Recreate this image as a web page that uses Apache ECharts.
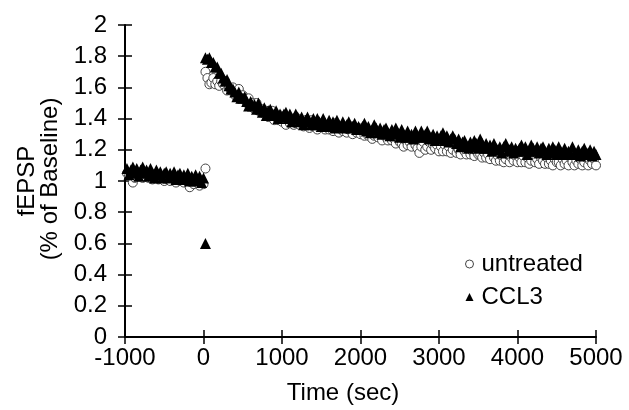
<!DOCTYPE html>
<html>
<head>
<meta charset="utf-8">
<script src="https://cdn.jsdelivr.net/npm/echarts@6/dist/echarts.min.js"></script>
<style>html,body{margin:0;padding:0;background:#fff}#c{width:629px;height:410px}</style>
</head>
<body>
<div id="c"></div>
<script>
// ---- Data ----
const xTicks = [-1000, 0, 1000, 2000, 3000, 4000, 5000];
const yTicks = [0, 0.2, 0.4, 0.6, 0.8, 1, 1.2, 1.4, 1.6, 1.8, 2];

const preTime = [-975,-950,-925,-900,-875,-850,-825,-800,-775,-750,
  -725,-700,-675,-650,-625,-600,-575,-550,-525,-500,
  -475,-450,-425,-400,-375,-350,-325,-300,-275,-250,
  -225,-200,-175,-150,-125,-100,-75,-50,-25,0,
  25];
const untreatedPre = [1.05,1.03,1.04,0.99,1.02,1.05,1.03,1.04,1.02,1.03,
  1.04,1.02,1.03,1.01,1.03,1.02,1.01,1.03,1.02,1.00,
  1.02,1.01,1.00,1.02,1.01,0.99,1.02,1.00,1.01,0.99,
  1.01,0.99,0.96,1.00,0.98,1.00,0.99,0.97,1.00,0.98,
  1.08];
const ccl3Pre = [1.08,1.04,1.07,1.09,1.05,1.08,1.03,1.07,1.09,1.05,
  1.07,1.03,1.08,1.05,1.02,1.07,1.04,1.06,1.02,1.05,
  1.06,1.02,1.05,1.03,1.06,1.01,1.04,1.05,1.01,1.04,
  1.02,1.05,1.00,1.03,1.00,1.04,1.01,1.03,0.99,1.02,
  0.60];

const postTime = [25,50,75,100,125,150,175,200,225,250,275,300,325,350,375,400,425,450,475,500,
  525,550,575,600,625,650,675,700,725,750,775,800,825,850,875,900,925,950,975,1000,
  1025,1050,1075,1100,1125,1150,1175,1200,1225,1250,1275,1300,1325,1350,1375,1400,1425,1450,1475,1500,
  1525,1550,1575,1600,1625,1650,1675,1700,1725,1750,1775,1800,1825,1850,1875,1900,1925,1950,1975,2000,
  2025,2050,2075,2100,2125,2150,2175,2200,2225,2250,2275,2300,2325,2350,2375,2400,2425,2450,2475,2500,
  2525,2550,2575,2600,2625,2650,2675,2700,2725,2750,2775,2800,2825,2850,2875,2900,2925,2950,2975,3000,
  3025,3050,3075,3100,3125,3150,3175,3200,3225,3250,3275,3300,3325,3350,3375,3400,3425,3450,3475,3500,
  3525,3550,3575,3600,3625,3650,3675,3700,3725,3750,3775,3800,3825,3850,3875,3900,3925,3950,3975,4000,
  4025,4050,4075,4100,4125,4150,4175,4200,4225,4250,4275,4300,4325,4350,4375,4400,4425,4450,4475,4500,
  4525,4550,4575,4600,4625,4650,4675,4700,4725,4750,4775,4800,4825,4850,4875,4900,4925,4950,4975,5000];
const untreatedPost = [1.70,1.66,1.62,1.63,1.66,1.62,1.64,1.61,1.64,1.62,1.64,1.58,1.60,1.58,1.60,1.55,1.57,1.59,1.54,1.55,
  1.53,1.50,1.53,1.49,1.50,1.46,1.50,1.47,1.44,1.46,1.43,1.45,1.41,1.42,1.45,1.39,1.42,1.39,1.42,1.38,
  1.40,1.36,1.41,1.37,1.40,1.36,1.37,1.40,1.36,1.38,1.35,1.39,1.36,1.34,1.39,1.35,1.36,1.33,1.37,1.35,
  1.35,1.33,1.36,1.33,1.35,1.32,1.37,1.34,1.31,1.34,1.32,1.35,1.31,1.33,1.35,1.30,1.33,1.31,1.34,1.30,
  1.32,1.29,1.33,1.29,1.31,1.27,1.29,1.32,1.28,1.30,1.26,1.30,1.28,1.26,1.30,1.26,1.27,1.24,1.27,1.25,
  1.24,1.22,1.26,1.23,1.25,1.22,1.26,1.23,1.21,1.18,1.22,1.25,1.20,1.22,1.25,1.20,1.23,1.21,1.23,1.19,
  1.22,1.19,1.23,1.19,1.22,1.18,1.20,1.23,1.18,1.20,1.17,1.21,1.19,1.17,1.21,1.17,1.19,1.16,1.19,1.17,
  1.17,1.15,1.18,1.15,1.17,1.14,1.18,1.15,1.13,1.16,1.13,1.16,1.12,1.14,1.17,1.12,1.15,1.13,1.16,1.12,
  1.15,1.12,1.16,1.12,1.15,1.11,1.13,1.16,1.12,1.14,1.11,1.15,1.13,1.11,1.15,1.11,1.13,1.10,1.14,1.12,
  1.12,1.10,1.14,1.11,1.13,1.10,1.15,1.12,1.10,1.13,1.11,1.14,1.10,1.12,1.15,1.10,1.13,1.11,1.14,1.10];
const ccl3Post = [1.79,1.78,1.79,1.76,1.76,1.73,1.73,1.69,1.69,1.66,1.64,1.65,1.61,1.59,1.59,1.57,1.54,1.57,1.53,1.53,
  1.54,1.51,1.48,1.51,1.48,1.49,1.46,1.50,1.46,1.44,1.47,1.42,1.45,1.46,1.42,1.43,1.45,1.40,1.43,1.41,
  1.43,1.44,1.40,1.43,1.38,1.40,1.43,1.41,1.38,1.41,1.36,1.39,1.41,1.38,1.36,1.40,1.36,1.40,1.38,1.35,
  1.40,1.37,1.35,1.39,1.36,1.38,1.34,1.39,1.36,1.35,1.38,1.34,1.36,1.38,1.34,1.35,1.37,1.33,1.35,1.33,
  1.35,1.37,1.32,1.35,1.31,1.33,1.36,1.34,1.31,1.34,1.30,1.33,1.34,1.31,1.29,1.33,1.30,1.34,1.31,1.28,
  1.33,1.30,1.28,1.32,1.28,1.30,1.27,1.32,1.29,1.28,1.32,1.28,1.30,1.32,1.27,1.28,1.30,1.26,1.29,1.27,
  1.29,1.31,1.26,1.29,1.25,1.27,1.29,1.27,1.24,1.27,1.22,1.25,1.26,1.23,1.21,1.25,1.22,1.26,1.24,1.21,
  1.27,1.24,1.21,1.24,1.21,1.23,1.19,1.24,1.21,1.20,1.22,1.18,1.22,1.24,1.19,1.20,1.22,1.18,1.21,1.19,
  1.21,1.23,1.19,1.22,1.17,1.19,1.23,1.21,1.19,1.22,1.18,1.21,1.22,1.19,1.17,1.21,1.18,1.22,1.20,1.17,
  1.22,1.19,1.17,1.21,1.17,1.19,1.17,1.22,1.18,1.17,1.20,1.16,1.19,1.21,1.17,1.18,1.20,1.16,1.19,1.17];

// ---- Build ----
function pairs(t, v) { return t.map((x, i) => [x, v[i]]); }
const untreatedData = pairs(preTime, untreatedPre).concat(pairs(postTime, untreatedPost));
const ccl3Data = pairs(preTime, ccl3Pre).concat(pairs(postTime, ccl3Post));

const FONT = '"Liberation Sans", Arial, sans-serif';
const FS = 24;
const chart = echarts.init(document.getElementById('c'), null, {renderer: 'canvas'});
const xMin = xTicks[0], xMax = xTicks[xTicks.length - 1], xInt = xTicks[1] - xTicks[0];
const yMin = yTicks[0], yMax = yTicks[yTicks.length - 1], yInt = 0.2;
const lineStyle = {color: '#000', width: 2};
const tickStyle = {color: '#000', width: 1.5};

chart.setOption({
  animation: false,
  backgroundColor: '#fff',
  grid: {left: 125, right: 33, top: 25, bottom: 73, containLabel: false},
  xAxis: [{
    type: 'value', min: xMin, max: xMax, interval: xInt,
    axisLine: {show: true, onZero: false, lineStyle: lineStyle},
    axisTick: {show: true, inside: false, length: 7, lineStyle: tickStyle},
    axisLabel: {color: '#000', fontSize: FS, fontFamily: FONT, margin: 9,
      formatter: v => String(v)},
    splitLine: {show: false}
  }, {
    type: 'value', min: xMin, max: xMax, interval: xInt, position: 'bottom',
    axisLine: {show: false, onZero: false},
    axisTick: {show: true, inside: true, length: 7, lineStyle: tickStyle},
    axisLabel: {show: false}, splitLine: {show: false}
  }],
  yAxis: [{
    type: 'value', min: yMin, max: yMax, interval: yInt,
    axisLine: {show: true, onZero: false, lineStyle: lineStyle},
    axisTick: {show: true, inside: false, length: 7, lineStyle: tickStyle},
    axisLabel: {color: '#000', fontSize: FS, fontFamily: FONT, margin: 18,
      formatter: v => String(+v.toFixed(1))},
    splitLine: {show: false}
  }, {
    type: 'value', min: yMin, max: yMax, interval: yInt, position: 'left',
    axisLine: {show: false, onZero: false},
    axisTick: {show: true, inside: true, length: 7, lineStyle: tickStyle},
    axisLabel: {show: false}, splitLine: {show: false}
  }],
  legend: {
    orient: 'vertical', left: 460, top: 247, itemWidth: 8, itemHeight: 8, itemGap: 9,
    textStyle: {color: '#000', fontSize: FS, fontFamily: FONT, padding: [0, 0, 0, 3]},
    data: [
      {name: 'untreated', icon: 'circle', itemStyle: {color: '#fff', borderColor: '#444', borderWidth: 1}},
      {name: 'CCL3', icon: 'triangle', itemStyle: {color: '#000'}}
    ]
  },
  graphic: [
    {type: 'text', x: 27, y: 181, rotation: Math.PI / 2,
      style: {text: 'fEPSP', fill: '#000', font: FS + 'px ' + FONT, align: 'center', verticalAlign: 'middle'}},
    {type: 'text', x: 50, y: 179, rotation: Math.PI / 2,
      style: {text: '(% of Baseline)', fill: '#000', font: FS + 'px ' + FONT, align: 'center', verticalAlign: 'middle'}},
    {type: 'text', x: 343, y: 393,
      style: {text: 'Time (sec)', fill: '#000', font: FS + 'px ' + FONT, align: 'center', verticalAlign: 'middle'}}
  ],
  series: [{
    name: 'untreated', type: 'scatter', xAxisIndex: 0, yAxisIndex: 0, z: 2,
    symbol: 'circle', symbolSize: 9,
    itemStyle: {color: '#fff', borderColor: '#444', borderWidth: 1, opacity: 1},
    data: untreatedData
  }, {
    name: 'CCL3', type: 'scatter', xAxisIndex: 0, yAxisIndex: 0, z: 3,
    symbol: 'triangle', symbolSize: 11,
    itemStyle: {color: '#000', opacity: 1},
    data: ccl3Data
  }]
});
</script>
</body>
</html>
